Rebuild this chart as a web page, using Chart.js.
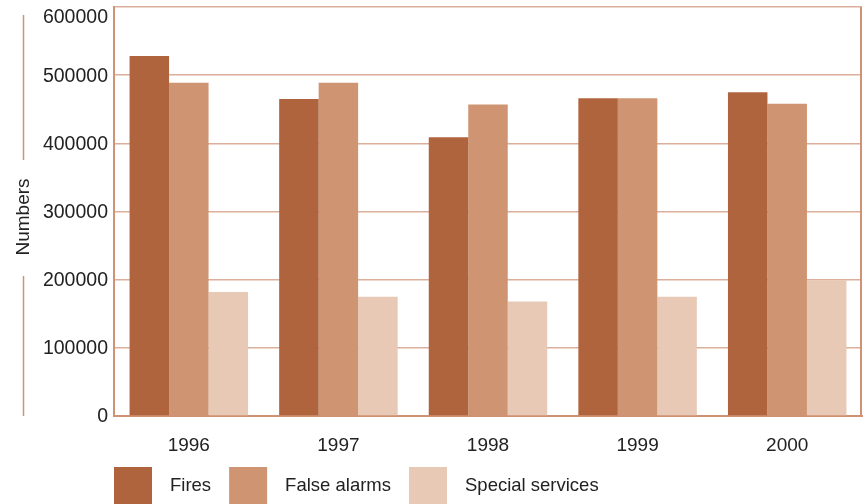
<!DOCTYPE html>
<html>
<head>
<meta charset="utf-8">
<script src="https://cdn.jsdelivr.net/npm/chart.js@4/dist/chart.umd.min.js"></script>
<style>
  html, body { margin: 0; padding: 0; background: #ffffff; }
  #wrap { width: 863px; height: 504px; position: relative; }
</style>
</head>
<body>
<div id="wrap"><canvas id="chart" width="863" height="504"></canvas></div>
<script>
// Fire brigade call-outs by year
const categories = ['1996', '1997', '1998', '1999', '2000'];
const fires = [528000, 465000, 409000, 466000, 475000];
const falseAlarms = [489000, 489000, 457000, 466000, 458000];
const specialServices = [182000, 175000, 168000, 175000, 199000];
const seriesNames = ['Fires', 'False alarms', 'Special services'];
const yTickValues = [0, 100000, 200000, 300000, 400000, 500000, 600000];
const yTitle = 'Numbers';

const colors = ['#B0643E', '#CF9572', '#E8C9B5'];
const FONT = '"Liberation Sans", Arial, Helvetica, sans-serif';
const TEXT = '#222222';
const LINE = '#CF9274';

// y tick labels, axis title with its side rules, frame and legend
const decorations = {
  id: 'decorations',
  afterDraw(chart) {
    const { ctx, chartArea: a, scales } = chart;
    const y = scales.y;
    ctx.save();

    // right edge of the frame
    ctx.strokeStyle = LINE;
    ctx.lineWidth = 2;
    ctx.beginPath();
    ctx.moveTo(a.right - 1, a.top);
    ctx.lineTo(a.right - 1, a.bottom);
    ctx.stroke();

    // tick labels
    ctx.fillStyle = TEXT;
    ctx.font = '19.5px ' + FONT;
    ctx.textAlign = 'right';
    ctx.textBaseline = 'middle';
    yTickValues.forEach(v => {
      const py = Math.max(y.getPixelForValue(v), a.top + 10);
      ctx.fillText(String(v), a.left - 6, py + 1);
    });

    // axis title with rules above and below
    ctx.font = '19px ' + FONT;
    const tx = 24, ty = 217;
    ctx.save();
    ctx.translate(tx, ty);
    ctx.rotate(-Math.PI / 2);
    ctx.textAlign = 'center';
    ctx.fillText(yTitle, 0, 0);
    ctx.restore();
    ctx.strokeStyle = LINE;
    ctx.lineWidth = 1.5;
    ctx.beginPath();
    ctx.moveTo(23.5, a.top + 8); ctx.lineTo(23.5, 160);
    ctx.moveTo(23.5, 276); ctx.lineTo(23.5, a.bottom);
    ctx.stroke();

    // legend
    ctx.font = '18.5px ' + FONT;
    ctx.textAlign = 'left';
    ctx.textBaseline = 'middle';
    let x = a.left;
    const boxTop = 467, box = 38;
    chart.data.datasets.forEach(ds => {
      ctx.fillStyle = ds.backgroundColor;
      ctx.fillRect(x, boxTop, box, box);
      x += box + 18;
      ctx.fillStyle = TEXT;
      ctx.fillText(ds.label, x, boxTop + box / 2);
      x += ctx.measureText(ds.label).width + 18;
    });
    ctx.restore();
  }
};

new Chart(document.getElementById('chart'), {
  type: 'bar',
  data: {
    labels: categories,
    datasets: [
      { label: seriesNames[0], data: fires, backgroundColor: colors[0] },
      { label: seriesNames[1], data: falseAlarms, backgroundColor: colors[1] },
      { label: seriesNames[2], data: specialServices, backgroundColor: colors[2] }
    ]
  },
  options: {
    responsive: false,
    animation: false,
    layout: { padding: { top: 7, right: 1, left: 0, bottom: 0 } },
    datasets: { bar: { categoryPercentage: 0.792, barPercentage: 1.0, borderWidth: 0 } },
    plugins: {
      legend: { display: false },
      tooltip: { enabled: false },
      title: { display: false }
    },
    scales: {
      x: {
        z: 1,
        grid: { display: false },
        border: { display: true, color: LINE, width: 2 },
        ticks: {
          color: TEXT,
          font: { family: FONT, size: 19 },
          padding: 10
        },
        afterFit(s) { s.height = 88; }
      },
      y: {
        z: 1,
        min: 0,
        max: 600000,
        afterBuildTicks(s) { s.ticks = yTickValues.map(v => ({ value: v })); },
        grid: {
          color: 'rgba(190,110,70,0.55)',
          lineWidth: 1.5,
          drawTicks: false
        },
        border: { display: true, color: LINE, width: 2 },
        ticks: { display: false },
        afterFit(s) { s.width = 114; }
      }
    }
  },
  plugins: [decorations]
});
</script>
</body>
</html>
